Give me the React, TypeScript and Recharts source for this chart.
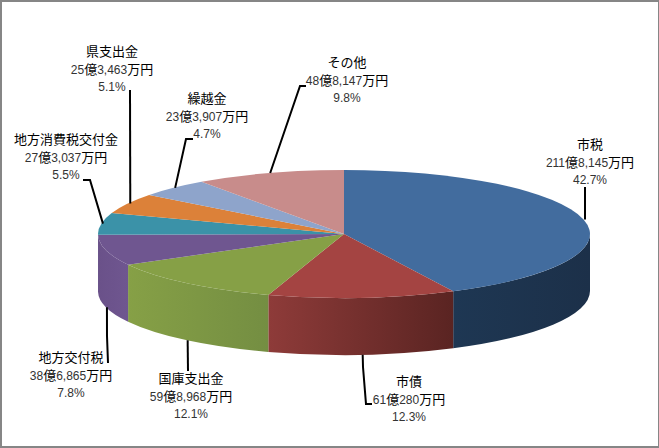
import { PieChart, Pie } from "recharts";

const names = ["市税", "市債", "国庫支出金", "地方交付税", "地方消費税交付金", "県支出金", "繰越金", "その他"];
// 万円
const amounts = [2118145, 610280, 598968, 386865, 273037, 253463, 233907, 488147];
const amountLabels = [
  "211億8,145万円",
  "61億280万円",
  "59億8,968万円",
  "38億6,865万円",
  "27億3,037万円",
  "25億3,463万円",
  "23億3,907万円",
  "48億8,147万円",
];
const percentLabels = ["42.7%", "12.3%", "12.1%", "7.8%", "5.5%", "5.1%", "4.7%", "9.8%"];

const TOP_COLORS = ["#426C9E", "#A44442", "#86A046", "#6F5690", "#3B92A8", "#DC8139", "#8EA4CB", "#C88C8B"];
const WALL_COLORS = [
  ["#1E3753", "#1C3049"],
  ["#8E3B39", "#5A2422"],
  ["#86A046", "#748E42"],
  ["#6A5189", "#6F5690"],
  ["#3B92A8", "#3B92A8"],
  ["#DC8139", "#DC8139"],
  ["#8EA4CB", "#8EA4CB"],
  ["#C88C8B", "#C88C8B"],
];

const WIDTH = 659;
const HEIGHT = 448;
const CX = 344;
const CY = 234;
const RX = 246;
const RY = 64;
const DEPTH = 57;

// text block centre x, first line y, leader start nudge, then the bend and end of the leader
const LABEL_LAYOUT = [
  { x: 590, y: 144, dx: 1.5, line: [[585, 187]] },
  { x: 409, y: 381, dx: 0.6, line: [[363, 367], [366, 404], [372, 404]] },
  { x: 191, y: 378, dx: 0.6, line: [[188, 371]] },
  { x: 71, y: 357, dx: 1, line: [[107, 336], [108, 363]] },
  { x: 66, y: 139, dx: 1.7, line: [[90, 180], [83, 180]] },
  { x: 112, y: 50.5, dx: 2.6, line: [[130, 90]] },
  { x: 207, y: 98, dx: 1.7, line: [[186, 139], [193, 139]] },
  { x: 347, y: 62, dx: 1, line: [[300, 86], [306, 86]] },
];

const chartData = names.map((name, i) => ({ name, value: amounts[i] }));

const rad = (deg: number) => (deg * Math.PI) / 180;
const px = (deg: number) => CX + RX * Math.cos(rad(deg));
const py = (deg: number) => CY - RY * Math.sin(rad(deg));

// recharts hands over circular sector angles, this squashes them to the tilted ellipse
function TiltedSector(props: any) {
  const { startAngle, endAngle, index, fill } = props;
  const a1 = Math.min(startAngle, endAngle);
  const a2 = Math.max(startAngle, endAngle);
  const large = a2 - a1 > 180 ? 1 : 0;
  const top = `M${CX},${CY} L${px(a2)},${py(a2)} A${RX},${RY} 0 ${large} 1 ${px(a1)},${py(a1)} Z`;

  // front wall is the part of the slice below the centre line (180..360 and -180..0)
  const walls: string[] = [];
  for (const [lo, hi] of [[-180, 0], [180, 360]]) {
    const w1 = Math.max(a1, lo);
    const w2 = Math.min(a2, hi);
    if (w2 > w1) {
      walls.push(
        `M${px(w2)},${py(w2)} A${RX},${RY} 0 0 1 ${px(w1)},${py(w1)} L${px(w1)},${py(w1) + DEPTH} A${RX},${RY} 0 0 0 ${px(w2)},${py(w2) + DEPTH} Z`
      );
    }
  }
  return (
    <g>
      {walls.map((d) => (
        <path key={d} d={d} fill={`url(#wall-${index})`} />
      ))}
      <path d={top} fill={fill} />
    </g>
  );
}

function LabelText({ x, y, text }: { x: number; y: number; text: string }) {
  // latin runs are a bit smaller than the kanji, like the original
  const runs = text.match(/[0-9.,%]+|[^0-9.,%]+/g) || [];
  return (
    <text x={x} y={y + 5} textAnchor="middle" fill="#000000">
      {runs.map((r, i) => {
        const latin = /[0-9]/.test(r);
        return (
          <tspan
            key={i}
            fontSize={latin ? 12 : 13}
            fontFamily={latin ? "Liberation Sans" : "'Noto Sans CJK JP'"}
            fill={latin ? "#333333" : "#000000"}
          >
            {r}
          </tspan>
        );
      })}
    </text>
  );
}

function renderLabel(props: any) {
  const { index, midAngle } = props;
  const layout = LABEL_LAYOUT[index];
  const front = Math.sin(rad(midAngle)) < 0;
  const ax = px(midAngle) + layout.dx;
  const ay = py(midAngle) + (front ? DEPTH : 0);
  const points = [[ax, ay], ...layout.line].map((p) => p.join(",")).join(" ");
  return (
    <g>
      <polyline points={points} fill="none" stroke="#000000" strokeWidth={2} />
      <LabelText x={layout.x} y={layout.y} text={names[index]} />
      <LabelText x={layout.x} y={layout.y + 18} text={amountLabels[index]} />
      <LabelText x={layout.x} y={layout.y + 35} text={percentLabels[index]} />
    </g>
  );
}

export default function App() {
  return (
    <div style={{ position: "absolute", left: 0, top: 0, width: WIDTH, height: HEIGHT, background: "#FFFFFF" }}>
      <PieChart width={WIDTH} height={HEIGHT} margin={{ top: 0, right: 0, bottom: 0, left: 0 }}>
        <defs>
          {WALL_COLORS.map((c, i) => (
            <linearGradient key={i} id={`wall-${i}`} x1="0" y1="0" x2="1" y2="0">
              <stop offset="0%" stopColor={c[0]} />
              <stop offset="100%" stopColor={c[1]} />
            </linearGradient>
          ))}
        </defs>
        <Pie
          data={chartData}
          dataKey="value"
          nameKey="name"
          cx={CX}
          cy={CY}
          innerRadius={0}
          outerRadius={RX}
          startAngle={90}
          endAngle={-270}
          stroke="none"
          isAnimationActive={false}
          shape={(p: any) => <TiltedSector {...p} fill={TOP_COLORS[p.index]} />}
          label={renderLabel}
          labelLine={false}
        />
      </PieChart>
      <div
        style={{
          position: "absolute",
          inset: 0,
          boxSizing: "border-box",
          borderStyle: "solid",
          borderColor: "#868686",
          borderWidth: "2px 1px 2px 2px",
          pointerEvents: "none",
        }}
      />
    </div>
  );
}
